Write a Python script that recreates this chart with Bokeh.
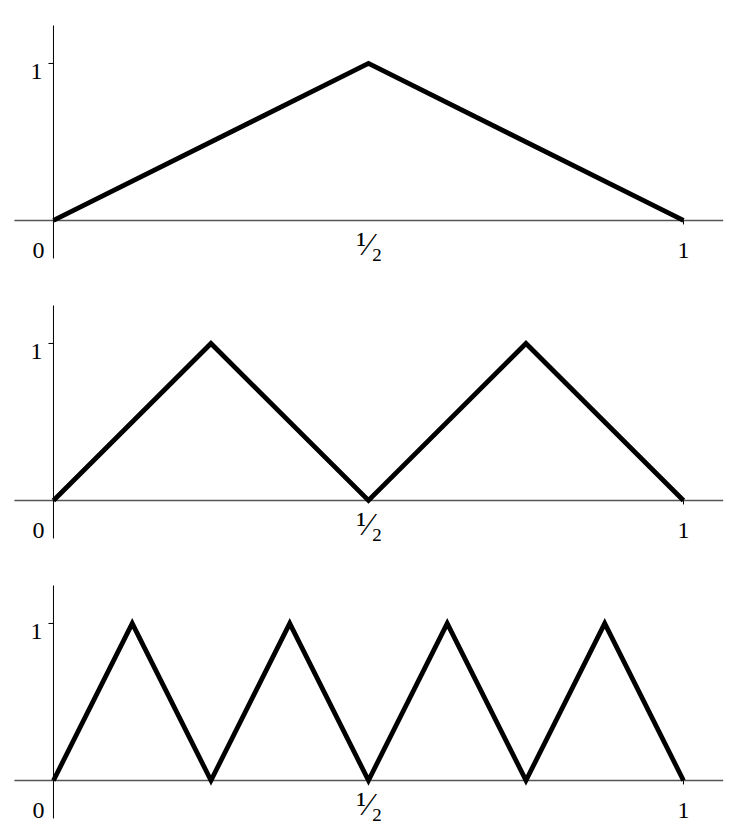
from bokeh.plotting import figure
from bokeh.layouts import column
from bokeh.models import Range1d
from bokeh.core.properties import value
from bokeh.embed import file_html
from bokeh.resources import INLINE
import math

# Data: tent maps T, T^2, T^3
panel1_x = [0, 0.5, 1]
panel1_y = [0, 1, 0]
panel2_x = [0, 0.25, 0.5, 0.75, 1]
panel2_y = [0, 1, 0, 1, 0]
panel3_x = [0, 0.125, 0.25, 0.375, 0.5, 0.625, 0.75, 0.875, 1]
panel3_y = [0, 1, 0, 1, 0, 1, 0, 1, 0]

panels = [(panel1_x, panel1_y), (panel2_x, panel2_y), (panel3_x, panel3_y)]

xtick_vals = [0, 0.5, 1]
xtick_labels = ["0", "\u00b9\u2044\u2082", "1"]
xtick_offsets = [-15, 1, 0]
xtick_yoff = [30, 24, 30]
xtick_sizes = ["24px", "32px", "24px"]
ytick_vals = [1]
ytick_labels = ["1"]

FONT = value("Liberation Serif")

figs = []
for xs, ys in panels:
    p = figure(width=726, height=268,
               x_range=Range1d(-0.0841, 1.0683), y_range=Range1d(-0.306, 1.401),
               output_backend="svg", toolbar_location=None, min_border=0)
    p.axis.visible = False
    p.grid.visible = False
    p.outline_line_color = None
    p.background_fill_color = "white"
    p.border_fill_color = "white"

    # axis lines
    p.segment(x0=[-0.062], y0=[0], x1=[1.063], y1=[0], line_color="#555555", line_width=1.4)
    p.segment(x0=[0], y0=[-0.242], x1=[0], y1=[1.242], line_color="black", line_width=1)
    # tick marks
    p.ray(x=[0] * len(ytick_vals), y=ytick_vals, length=5, length_units="screen",
          angle=math.pi, line_color="black", line_width=1)
    p.ray(x=[1], y=[0], length=4, length_units="screen",
          angle=-math.pi / 2, line_color="black", line_width=1)

    # tick labels
    for xv, lab, xo, yo, fs in zip(xtick_vals, xtick_labels, xtick_offsets, xtick_yoff, xtick_sizes):
        p.text(x=[xv], y=[0], text=[lab],
               x_offset=xo, y_offset=yo, text_align="center",
               text_baseline="alphabetic", text_font=FONT, text_font_size=fs,
               text_color="black")
    p.text(x=[0] * len(ytick_vals), y=ytick_vals, text=ytick_labels,
           x_offset=-17, y_offset=8, text_align="center",
           text_baseline="alphabetic", text_font=FONT, text_font_size="24px",
           text_color="black")

    # tent curve
    p.line(xs, ys, line_width=4.8, line_color="black", line_join="miter")
    figs.append(p)

layout = column(*figs, spacing=12)
open("out.html", "w").write(file_html(layout, INLINE))
